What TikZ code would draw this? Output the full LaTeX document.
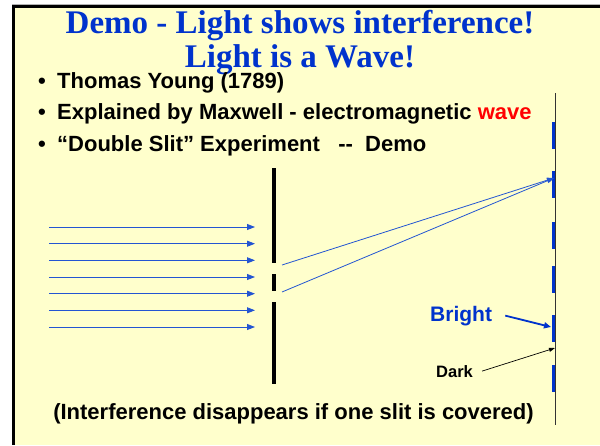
\documentclass[tikz,border=0pt]{standalone}
\usepackage{fontspec}
\setmainfont{Liberation Sans}
\newfontfamily\titlefont{Liberation Serif}
\usetikzlibrary{arrows.meta}
\definecolor{slidebg}{HTML}{FFFFCC}
\definecolor{titleblue}{HTML}{0033CC}
\definecolor{rayblue}{HTML}{2355D2}
\definecolor{wavered}{HTML}{FF0000}

\begin{document}
\begin{tikzpicture}[x=1pt,y=-1pt,
  titletext/.style={anchor=base,inner sep=0pt,text=titleblue,font=\titlefont\fontsize{33}{36}\selectfont\bfseries},
  bullettext/.style={anchor=base west,inner sep=0pt,font=\fontsize{22}{26}\selectfont\bfseries},
  ray/.style={rayblue,line width=0.9pt,-{Triangle[length=8pt,width=6pt]}},
  barrier/.style={line width=4pt},
  fringe/.style={titleblue,line width=3.5pt}]
\useasboundingbox (0,0) rectangle (600,445);
% slide background and frame
\fill[white] (0,0) rectangle (600,445);
\fill[slidebg] (12,4) rectangle (600,445);
\draw[gray!60,line width=1pt] (12,4.5) -- (600,4.5);
\draw[line width=2.5pt] (12,6.5) -- (600,6.5);
\draw[line width=3pt] (13.5,5) -- (13.5,445);
% title
\node[titletext] (title1) at (300,33) {Demo - Light shows interference!};
\node[titletext] (title2) at (300,67) {Light is a Wave!};
% bullet list
\node[bullettext] (dotA) at (38,88) {•};
\node[bullettext] (lineA) at (57,88) {Thomas Young (1789)};
\node[bullettext] (dotB) at (38,119.5) {•};
\node[bullettext] (lineB) at (57,119.5) {Explained by Maxwell - electromagnetic \textcolor{wavered}{wave}};
\node[bullettext] (dotC) at (38,151) {•};
\node[bullettext] (lineC) at (57,151) {“Double Slit” Experiment\ \ \ -{}-\ \ Demo};
% incoming plane wave
\foreach \i/\y in {1/227,2/243.7,3/260.3,4/277,5/293.7,6/310.3,7/327}{
  \coordinate (src\i) at (49,\y);
  \coordinate (dst\i) at (255,\y);
  \draw[ray] (src\i) -- (dst\i);
}
% double slit barrier
\draw[barrier] (274,168) -- (274,263);
\draw[barrier] (274,274) -- (274,291);
\draw[barrier] (274,302) -- (274,384);
% screen with fringes
\coordinate (screenTop) at (555,93);
\coordinate (screenBot) at (555,425);
\draw[black!80,line width=1pt] (screenTop) -- (screenBot);
\foreach \s in {122,171,222,266,315,365}
  \draw[fringe] (553.5,\s) -- (553.5,\s+27);
% paths from the two slits
\coordinate (slitA) at (282,265);
\coordinate (slitB) at (282,292);
\coordinate (hitTop) at (554,178);
\draw[ray,line width=0.8pt,-{Triangle[length=7pt,width=5pt]}] (slitA) -- (hitTop);
\draw[ray,line width=0.8pt,-{Triangle[length=7pt,width=5pt]}] (slitB) -- (hitTop);
% labels
\node[anchor=base west,inner sep=0pt,text=titleblue,font=\fontsize{21}{24}\selectfont\bfseries] (bright) at (430,321) {Bright};
\coordinate (brightPt) at (551,327);
\draw[titleblue,line width=1.8pt,-{Triangle[length=7pt,width=6pt]}] ([xshift=13pt]bright.east) -- (brightPt);
\node[anchor=base west,inner sep=0pt,font=\fontsize{16.5}{19}\selectfont\bfseries] (dark) at (436,377) {Dark};
\coordinate (darkPt) at (555,348);
\draw[line width=0.7pt,-{Triangle[length=6pt,width=4pt]}] ([xshift=9pt]dark.east) -- (darkPt);
\node[anchor=base,inner sep=0pt,font=\fontsize{22}{26}\selectfont\bfseries] (note) at (293.5,419) {(Interference disappears if one slit is covered)};
\end{tikzpicture}
\end{document}
